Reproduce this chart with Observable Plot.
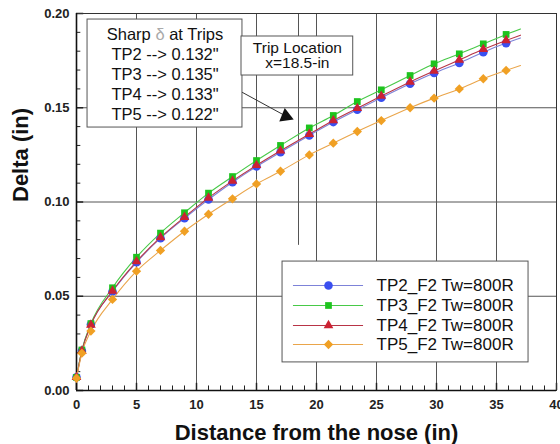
<!DOCTYPE html>
<html>
<head>
<meta charset="utf-8">
<script src="https://cdn.jsdelivr.net/npm/d3@7"></script>
<script src="https://cdn.jsdelivr.net/npm/@observablehq/plot@0.6"></script>
<style>
  html, body { margin: 0; padding: 0; background: #fff; }
  #chart { width: 560px; height: 444px; }
</style>
</head>
<body>
<div id="chart"></div>
<script>
// ---- data ----
const xs   = [0, 0.45, 1.2, 3, 5, 7, 9, 11, 13, 15, 17, 19.4, 21.4, 23.4, 25.4, 27.8, 29.8, 31.9, 33.9, 35.8];
const tp2  = [0.007, 0.021, 0.035, 0.0525, 0.068, 0.0808, 0.0914, 0.1013, 0.1105, 0.1188, 0.1264, 0.1353, 0.1424, 0.1489, 0.1553, 0.1627, 0.1684, 0.1738, 0.1795, 0.1843];
const tp3  = [0.007, 0.0215, 0.0355, 0.0545, 0.0707, 0.0835, 0.0943, 0.1047, 0.1135, 0.122, 0.130, 0.1393, 0.1459, 0.1533, 0.1595, 0.1671, 0.1733, 0.1786, 0.1839, 0.1889];
const tp4  = [0.007, 0.021, 0.0348, 0.0528, 0.0684, 0.0812, 0.092, 0.1022, 0.1112, 0.1195, 0.1272, 0.136, 0.1432, 0.1497, 0.1562, 0.1637, 0.1695, 0.1754, 0.181, 0.1857];
const tp5  = [0.0065, 0.0198, 0.0315, 0.0483, 0.0633, 0.0743, 0.0845, 0.0935, 0.1017, 0.1096, 0.1163, 0.125, 0.1312, 0.1374, 0.1432, 0.150, 0.1551, 0.160, 0.1654, 0.1698];
// line end (no marker) read at x = 37
const xEnd = 37;
const endValues = [0.187, 0.1918, 0.1885, 0.1724];

const seriesNames = ["TP2_F2 Tw=800R", "TP3_F2 Tw=800R", "TP4_F2 Tw=800R", "TP5_F2 Tw=800R"];
const seriesValues = [tp2, tp3, tp4, tp5];
const symbols = ["circle", "square", "triangle", "diamond2"];
const markerFill = ["#3a4ff0", "#1ec41e", "#cc2233", "#f0a024"];
const lineStroke = ["#7d82d8", "#47c947", "#b83446", "#eaa54a"];
const markerR = [4.3, 3.8, 3.6, 4.2];

const xTicks = [0, 5, 10, 15, 20, 25, 30, 35, 40];
const yTicks = [0, 0.05, 0.10, 0.15, 0.20];
const xMinor = d3.range(0, 41, 1);
const yMinor = d3.range(0, 0.2001, 0.01);

const sharpLines = ["Sharp δ at Trips", "TP2 --> 0.132\"", "TP3 --> 0.135\"", "TP4 --> 0.133\"", "TP5 --> 0.122\""];
const tripLines = ["Trip Location", "x=18.5-in"];
const tripX = 18.5;
const xTitle = "Distance from the nose (in)";
const yTitle = "Delta (in)";

// ---- build tables ----
const points = [];
const lines = [];
seriesNames.forEach((name, i) => {
  seriesValues[i].forEach((v, j) => {
    points.push({series: i, x: xs[j], y: v});
    lines.push({series: i, x: xs[j], y: v});
  });
  lines.push({series: i, x: xEnd, y: endValues[i]});
});

// annotation placement (data units)
const box1 = {x1: 0.92, x2: 13.83, y1: 0.1395, y2: 0.1968};
const box2 = {x1: 13.75, x2: 23.06, y1: 0.1671, y2: 0.1878};
const legendBox = {x1: 17.17, x2: 37.67, y1: 0.0149, y2: 0.0684};
const legendRowY = [0.0557, 0.0451, 0.0345, 0.0244];
const legendRows = seriesNames.map((name, i) => ({series: i, name, y: legendRowY[i]}));
const isMajorY = d => Math.abs(d / 0.05 - Math.round(d / 0.05)) < 1e-6;

const marks = [
  // grid
  Plot.ruleX(xTicks.filter(d => d > 0 && d < 40), {stroke: "#555", strokeWidth: 1}),
  Plot.ruleY(yTicks.filter(d => d > 0 && d < 0.2), {stroke: "#555", strokeWidth: 1}),
  // trip location line
  Plot.ruleX([tripX], {y1: 0.077, y2: 0.2, stroke: "#555", strokeWidth: 1}),
  // inward ticks
  Plot.ruleX(xMinor, {y1: 0, y2: d => (d % 5 === 0 ? 0.0038 : 0.0024), stroke: "#222", strokeWidth: d => (d % 5 === 0 ? 1.5 : 1)}),
  Plot.ruleY(yMinor, {x1: 0, x2: d => (isMajorY(d) ? 0.6 : 0.36), stroke: "#222", strokeWidth: d => (isMajorY(d) ? 1.5 : 1)}),
  Plot.frame({stroke: "#333", strokeWidth: 1}),
  Plot.ruleX([0], {stroke: "#111", strokeWidth: 1.6}),
  Plot.ruleY([0], {stroke: "#111", strokeWidth: 1.6}),
  // axes
  Plot.axisX(xTicks, {tickSize: 0, tickPadding: 9, fontSize: 13, fontWeight: "bold", fill: "#222", label: null}),
  Plot.axisY(yTicks, {tickSize: 0, tickPadding: 7, fontSize: 13, fontWeight: "bold", fill: "#222", label: null, tickFormat: d3.format(".2f")}),
  // series lines and markers
  ...seriesNames.map((name, i) => Plot.line(lines.filter(d => d.series === i), {x: "x", y: "y", stroke: lineStroke[i], strokeWidth: 1.1, curve: "monotone-x"})),
  ...seriesNames.map((name, i) => Plot.dot(points.filter(d => d.series === i), {x: "x", y: "y", symbol: symbols[i], r: markerR[i], fill: markerFill[i], stroke: "none"})),
  // arrow from box 1 to trip line
  Plot.arrow([{x1: 13.2, y1: 0.1603, x2: 17.7, y2: 0.1447}], {x1: "x1", y1: "y1", x2: "x2", y2: "y2", stroke: "#333", strokeWidth: 1, headLength: 0, bend: 0}),
  Plot.dot([{x: 17.45, y: 0.1455}], {x: "x", y: "y", symbol: "triangle", r: 5.4, fill: "#111", rotate: 112}),
  // annotation boxes
  Plot.rect([box1], {x1: "x1", x2: "x2", y1: "y1", y2: "y2", fill: "white", stroke: "#555", strokeWidth: 1}),
  Plot.text([sharpLines.join("\n")], {x: (box1.x1 + box1.x2) / 2, y: (box1.y1 + box1.y2) / 2, fontSize: 16.5, lineHeight: 1.22, fill: "#111", textAnchor: "middle", lineAnchor: "middle"}),
  Plot.rect([box2], {x1: "x1", x2: "x2", y1: "y1", y2: "y2", fill: "white", stroke: "#555", strokeWidth: 1}),
  Plot.text([tripLines.join("\n")], {x: (box2.x1 + box2.x2) / 2, y: (box2.y1 + box2.y2) / 2 + 0.0003, fontSize: 15.5, lineHeight: 1.0, fill: "#111", textAnchor: "middle", lineAnchor: "middle"}),
  // legend
  Plot.rect([legendBox], {x1: "x1", x2: "x2", y1: "y1", y2: "y2", fill: "white", stroke: "#555", strokeWidth: 1}),
  ...legendRows.map((r, i) => Plot.ruleY([r], {y: "y", x1: 18.08, x2: 23.92, stroke: lineStroke[i], strokeWidth: 1.1})),
  ...legendRows.map((r, i) => Plot.dot([r], {x: 21.0, y: "y", symbol: symbols[i], r: markerR[i], fill: markerFill[i]})),
  Plot.text(legendRows, {x: 25.0, y: "y", text: "name", textAnchor: "start", fontSize: 17, fill: "#111"}),
  // axis titles
  Plot.text([xTitle], {frameAnchor: "bottom", dy: 42, fontSize: 22, fontWeight: "bold", fill: "#111", lineAnchor: "middle"}),
  Plot.text([yTitle], {frameAnchor: "left", dx: -56, rotate: -90, fontSize: 22, fontWeight: "bold", fill: "#111"})
];

const chart = Plot.plot({
  width: 560,
  height: 444,
  marginLeft: 76,
  marginRight: 4,
  marginTop: 13,
  marginBottom: 54,
  x: {domain: [0, 40], axis: null},
  y: {domain: [0, 0.2], axis: null},
  style: {fontFamily: "'Liberation Sans', Arial, Helvetica, sans-serif", background: "#fff", overflow: "visible"},
  marks
});

// grey delta glyph inside the first annotation line
d3.select(chart).selectAll("tspan").each(function() {
  const t = this.textContent;
  if (t === sharpLines[0]) {
    const parts = t.split("δ");
    const sel = d3.select(this);
    sel.text(null);
    sel.append("tspan").text(parts[0]);
    sel.append("tspan").attr("fill", "#aaa").text("δ");
    sel.append("tspan").text(parts[1]);
  }
});

document.getElementById("chart").appendChild(chart);
</script>
</body>
</html>
